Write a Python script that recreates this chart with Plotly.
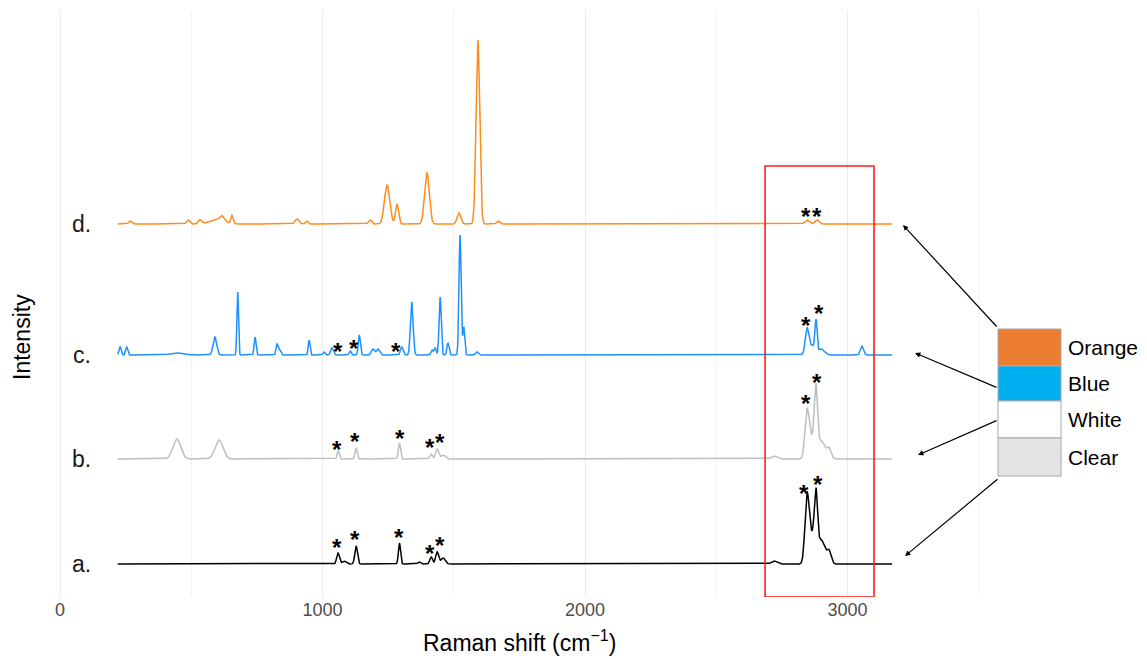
import numpy as np
import plotly.graph_objects as go

# ---------------- data ----------------
# Raman shift sampling range (cm^-1)
x_start, x_stop = 220, 3170

# vertical offsets of the stacked spectra
labels = ["a.", "b.", "c.", "d."]
offsets = [33, 138, 242, 373]
colors = ["#000000", "#BEBEBE", "#1E90FF", "#FF8C1A"]

# peak tables: (centre cm^-1, height, width sigma cm^-1)
peaks_a = [(1059, 11, 5), (1082, 3, 8), (1128, 18, 5), (1293, 21, 4), (1368, 2, 5),
           (1414, 7, 5), (1437, 12, 6), (1460, 6, 8), (2720, 3, 10),
           (2846, 68, 8), (2866, 26, 10), (2880, 58, 6), (2900, 24, 14), (2930, 12, 8)]
peaks_b = [(445, 20, 15), (606, 19, 15), (1060, 8, 4), (1128, 11, 4), (1168, 1, 5),
           (1293, 16, 4), (1414, 5, 5), (1437, 10, 6), (1460, 4, 8), (2720, 3, 10),
           (2846, 48, 8), (2866, 19, 10), (2880, 62, 6), (2900, 18, 14), (2930, 10, 8)]
peaks_c = [(229, 8, 4), (254, 8, 4), (445, 2, 25), (590, 18, 7), (677, 63, 3),
           (743, 18, 3.5), (827, 11, 4), (838, 5, 4), (949, 15, 3.5), (1006, 3, 4),
           (1036, 7, 5), (1105, 4, 4), (1140, 20, 4), (1192, 6, 6), (1211, 6, 6),
           (1302, 8, 5), (1340, 53, 5), (1417, 5, 4), (1429, 7, 4), (1448, 58, 4),
           (1478, 12, 4), (1524, 120, 4), (1538, 28, 3.5), (1588, 3, 5),
           (2846, 26, 7), (2866, 9, 10), (2880, 31, 4), (2900, 6, 12), (3055, 9, 6)]
peaks_d = [(267, 3, 6), (488, 4, 6), (533, 4, 6), (600, 4, 30), (617, 5, 8), (655, 8, 4),
           (903, 5, 8), (940, 3, 5), (1181, 4, 6), (1246, 39, 10), (1284, 20, 6),
           (1398, 51, 9), (1520, 11, 7), (1592, 184, 7), (1669, 3, 6),
           (2846, 4, 8), (2884, 4, 8)]
peak_tables = [peaks_a, peaks_b, peaks_c, peaks_d]

# asterisk marks: (x cm^-1, y)
stars_a = [(1055, 53), (1124, 61), (1291, 63), (1410, 47), (1448, 55), (2834, 107), (2888, 116)]
stars_b = [(1055, 151), (1124, 159), (1295, 162), (1410, 153), (1448, 158), (2842, 197), (2884, 218)]
stars_c = [(1059, 249), (1120, 252), (1280, 249), (2842, 275), (2891, 287)]
stars_d = [(2842, 384), (2884, 384)]
stars = stars_a + stars_b + stars_c + stars_d

# highlighted C-H region
box_x = (2686, 3101)
box_top = 431

# colour key
key_names = ["Orange", "Blue", "White", "Clear"]
key_colors = ["#ED7D31", "#00B0F0", "#FFFFFF", "#E4E4E4"]

# ---------------- figure ----------------
W, H = 1147, 659
L, R, T, B = 38, 1000, 10, 597  # plot area in pixels
x_per_px = 1 / 0.2625
xr = [(L - 60) * x_per_px, (R - 60) * x_per_px]
yr = [0, B - T]

def px(xp):
    return (xp - L) / (R - L)

def py(yp):
    return (B - yp) / (B - T)

xs = np.arange(x_start, x_stop + 1, 1.0)
fig = go.Figure()
for lab, off, col, tab in zip(labels, offsets, colors, peak_tables):
    ys = np.full_like(xs, off, dtype=float)
    for c, h, s in tab:
        ys += h * np.exp(-((xs - c) ** 2) / (2 * s * s))
    fig.add_trace(go.Scatter(x=xs, y=ys, mode="lines", line=dict(color=col, width=1.5),
                             name=lab, showlegend=False, hoverinfo="skip"))

FONT = "Liberation Sans, Arial, Helvetica, sans-serif"
ann = []
for lab, off in zip(labels, offsets):
    ann.append(dict(x=126, y=off, xref="x", yref="y", text=lab, showarrow=False,
                    xanchor="right", yanchor="middle", font=dict(size=23, color="#1A1A1A", family=FONT)))
for sx, sy in stars:
    ann.append(dict(x=sx, y=sy, xref="x", yref="y", text="<b>*</b>", showarrow=False,
                    xanchor="center", yanchor="middle", yshift=-3,
                    font=dict(size=24, color="#000000", family=FONT)))

# axis titles
ann.append(dict(x=px(519), y=py(641), xref="paper", yref="paper",
                text="Raman shift (cm<sup>\u22121</sup>)", showarrow=False,
                xanchor="center", yanchor="middle", font=dict(size=23, color="#000000", family=FONT)))
ann.append(dict(x=px(22), y=py(337), xref="paper", yref="paper", text="Intensity", textangle=-90,
                showarrow=False, xanchor="center", yanchor="middle",
                font=dict(size=23, color="#000000", family=FONT)))

# key labels
key_tops = [329, 366, 401, 438, 476]
for i, name in enumerate(key_names):
    yc = (key_tops[i] + key_tops[i + 1]) / 2
    ann.append(dict(x=px(1066), y=py(yc), xref="paper", yref="paper", text=name, showarrow=False,
                    xanchor="left", yanchor="middle", font=dict(size=21, color="#000000", family=FONT)))

# arrows (head -> tail in pixels)
arrows = [((903, 225), (998, 328)), ((915, 353), (998, 388)),
          ((918, 455), (998, 420)), ((905, 556), (999, 478))]
for (hx, hy), (tx, ty) in arrows:
    ann.append(dict(x=px(hx), y=py(hy), xref="paper", yref="paper", text="", showarrow=True,
                    ax=tx - hx, ay=ty - hy, axref="pixel", ayref="pixel",
                    arrowhead=2, arrowsize=0.9, arrowwidth=1.2, arrowcolor="#000000"))

shapes = []
shapes.append(dict(type="rect", xref="x", yref="y", x0=box_x[0], x1=box_x[1], y0=0, y1=box_top,
                   line=dict(color="#FF1F1F", width=1.6), fillcolor="rgba(0,0,0,0)"))
for i, col in enumerate(key_colors):
    shapes.append(dict(type="rect", xref="paper", yref="paper", x0=px(998), x1=px(1061),
                       y0=py(key_tops[i + 1]), y1=py(key_tops[i]),
                       line=dict(color="#A8A8A8", width=1), fillcolor=col))

fig.update_layout(
    width=W, height=H,
    margin=dict(l=L, r=W - R, t=T, b=H - B),
    paper_bgcolor="white", plot_bgcolor="white",
    annotations=ann, shapes=shapes,
    xaxis=dict(range=xr, tickvals=[0, 1000, 2000, 3000], ticktext=["0", "1000", "2000", "3000"],
               showgrid=True, gridcolor="#EBEBEB", gridwidth=1, zeroline=False, showline=False,
               ticks="", tickfont=dict(size=18, color="#4D4D4D", family=FONT),
               minor=dict(tickvals=[500, 1500, 2500, 3500], showgrid=True, gridcolor="#F3F3F3", gridwidth=1)),
    yaxis=dict(range=yr, showgrid=False, zeroline=False, showline=False, showticklabels=False, ticks=""),
    font=dict(family=FONT),
)

fig.write_html("out.html")
